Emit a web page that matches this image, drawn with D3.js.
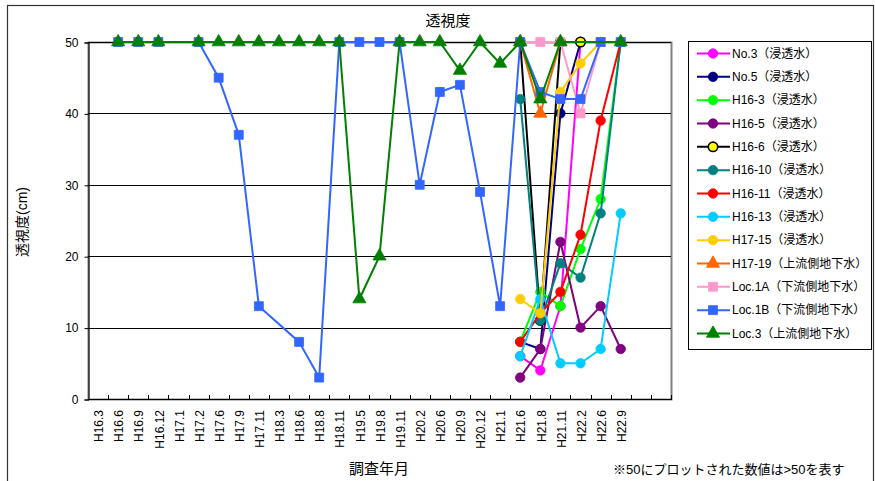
<!DOCTYPE html>
<html>
<head>
<meta charset="utf-8">
<script src="https://cdn.jsdelivr.net/npm/d3@7"></script>
<style>
  body { margin: 0; background: #fff; }
  text { font-family: "Liberation Sans", "Noto Sans CJK JP", sans-serif; }
</style>
</head>
<body>
<div id="chart"></div>
<script>
// survey dates (last two slots are empty on the axis)
var categories = ["H16.3","H16.6","H16.9","H16.12","H17.1","H17.2","H17.6","H17.9","H17.11",
  "H18.3","H18.6","H18.8","H18.11","H19.5","H19.8","H19.11","H20.2","H20.6","H20.9","H20.12",
  "H21.1","H21.6","H21.8","H21.11","H22.2","H22.6","H22.9"];
var blankSlots = ["_a","_b"];
var recentDates = ["H21.6","H21.8","H21.11","H22.2","H22.6","H22.9"];
var yTicks = [0,10,20,30,40,50];

// recent wells (recentDates)
var no3   = [6, 4, 13, 50, null, null];
var no5   = [8, 7, 40, 50, null, null];
var h16_3 = [8, 15, 13, 21, 28, 50];
var h16_5 = [3, 7, 22, 10, 13, 7];
var h16_6 = [50, 11, 50, 50, null, null];
var h16_10 = [42, 11, 19, 17, 26, 50];
var h16_11 = [8, 12, 15, 23, 39, 50];
var h16_13 = [6, 14, 5, 5, 7, 26];
var h17_15 = [14, 12, 43, 47, 50, null];
var h17_19 = [50, 40, 50, null, null, null];
var loc1a  = [50, 50, 50, 40, 50, 50];
// long records (categories)
var loc1b = [null,50,50,50,null,50,45,37,13,null,8,3,50,50,50,50,30,43,44,29,13,50,43,42,42,50,50];
var loc3  = [null,50,50,50,null,50,50,50,50,50,50,50,50,14,20,50,50,50,46,50,47,50,42,50,null,null,50];

var series = [
  {name:"No.3（浸透水）",   dates:recentDates, values:no3,   color:"#FF00FF", marker:"circle"},
  {name:"No.5（浸透水）",   dates:recentDates, values:no5,   color:"#000080", marker:"circle"},
  {name:"H16-3（浸透水）",  dates:recentDates, values:h16_3, color:"#00FF00", marker:"circle"},
  {name:"H16-5（浸透水）",  dates:recentDates, values:h16_5, color:"#800080", marker:"circle"},
  {name:"H16-6（浸透水）",  dates:recentDates, values:h16_6, color:"#000000", marker:"circle", fill:"#FFFF00"},
  {name:"H16-10（浸透水）", dates:recentDates, values:h16_10, color:"#008080", marker:"circle"},
  {name:"H16-11（浸透水）", dates:recentDates, values:h16_11, color:"#FF0000", marker:"circle"},
  {name:"H16-13（浸透水）", dates:recentDates, values:h16_13, color:"#00CCFF", marker:"circle"},
  {name:"H17-15（浸透水）", dates:recentDates, values:h17_15, color:"#FFCC00", marker:"circle"},
  {name:"H17-19（上流側地下水）", dates:recentDates, values:h17_19, color:"#FF6600", marker:"triangle"},
  {name:"Loc.1A（下流側地下水）", dates:recentDates, values:loc1a, color:"#FF99CC", marker:"square"},
  {name:"Loc.1B（下流側地下水）", dates:categories, values:loc1b, color:"#3366FF", marker:"square"},
  {name:"Loc.3（上流側地下水）",  dates:categories, values:loc3,  color:"#008000", marker:"triangle"}
];

var width = 875, height = 481;
var plot = {left: 88, right: 671, top: 42, bottom: 399};

var svg = d3.select("#chart").append("svg")
  .attr("width", width).attr("height", height);

// chart area border
svg.append("rect")
  .attr("x", 7.5).attr("y", 5.5).attr("width", 866).attr("height", 490)
  .attr("fill", "#fff").attr("stroke", "#333").attr("stroke-width", 1.2);

var x = d3.scaleBand()
  .domain(categories.concat(blankSlots))
  .range([plot.left, plot.right]);
var y = d3.scaleLinear().domain([0, 50]).range([plot.bottom, plot.top]);
var cx = function(d) { return x(d) + x.bandwidth() / 2; };

// plot area frame + gridlines
svg.append("rect")
  .attr("x", plot.left + 0.5).attr("y", plot.top + 0.5)
  .attr("width", plot.right - plot.left).attr("height", plot.bottom - plot.top)
  .attr("fill", "#fff").attr("stroke", "#808080").attr("stroke-width", 2);

svg.append("g").selectAll("line").data(yTicks.slice(1)).join("line")
  .attr("x1", plot.left).attr("x2", plot.right)
  .attr("y1", function(d) { return Math.round(y(d)) + 0.5; })
  .attr("y2", function(d) { return Math.round(y(d)) + 0.5; })
  .attr("stroke", "#000").attr("stroke-width", 1);

// y axis
var yAxis = svg.append("g")
  .attr("transform", "translate(" + (plot.left + 0.5) + ",0.5)")
  .call(d3.axisLeft(y).tickValues(yTicks).tickSize(4).tickPadding(6));
yAxis.select(".domain").attr("stroke", "#000");
yAxis.selectAll("text").style("font-size", "12px").attr("fill", "#000");

// x axis: ticks on category boundaries, pointing inward
var xg = svg.append("g");
xg.append("line")
  .attr("x1", plot.left).attr("x2", plot.right + 1)
  .attr("y1", plot.bottom + 0.5).attr("y2", plot.bottom + 0.5)
  .attr("stroke", "#000");
xg.selectAll("line.tick").data(x.domain().slice(1).concat([null])).join("line")
  .attr("class", "tick")
  .attr("x1", function(d) { return Math.round(d ? x(d) : plot.right) + 0.5; })
  .attr("x2", function(d) { return Math.round(d ? x(d) : plot.right) + 0.5; })
  .attr("y1", plot.bottom - 4).attr("y2", plot.bottom)
  .attr("stroke", "#000");
xg.selectAll("text").data(categories).join("text")
  .attr("transform", function(d) { return "translate(" + (cx(d) + 1) + "," + (plot.bottom + 11) + ") rotate(-90)"; })
  .attr("text-anchor", "end")
  .attr("dy", "0.35em")
  .style("font-size", "12px")
  .text(function(d) { return d; });

// series
var line = d3.line()
  .x(function(d) { return cx(d.date); })
  .y(function(d) { return y(d.value); });

function markerPath(type) {
  if (type === "triangle") return d3.symbol(d3.symbolTriangle, 75)();
  if (type === "square") return d3.symbol(d3.symbolSquare, 80)();
  return d3.symbol(d3.symbolCircle, 70)();
}

series.forEach(function(s) {
  var pts = s.dates.map(function(dt, i) { return {date: dt, value: s.values[i]}; })
    .filter(function(p) { return p.value != null; });
  var g = svg.append("g");
  g.append("path").datum(pts)
    .attr("d", line)
    .attr("fill", "none")
    .attr("stroke", s.color)
    .attr("stroke-width", 2);
  g.selectAll("path.m").data(pts).join("path")
    .attr("class", "m")
    .attr("transform", function(d) { return "translate(" + cx(d.date) + "," + y(d.value) + ")"; })
    .attr("d", markerPath(s.marker))
    .attr("fill", s.fill || s.color)
    .attr("stroke", s.color)
    .attr("stroke-width", s.fill ? 1.6 : 0.8);
});

// titles
svg.append("text")
  .attr("x", 448).attr("y", 26)
  .attr("text-anchor", "middle")
  .style("font-size", "15px")
  .text("透視度");

svg.append("text")
  .attr("transform", "translate(27,222) rotate(-90)")
  .attr("text-anchor", "middle")
  .style("font-size", "14px")
  .text("透視度(cm)");

svg.append("text")
  .attr("x", 379).attr("y", 474)
  .attr("text-anchor", "middle")
  .style("font-size", "15px")
  .text("調査年月");

svg.append("text")
  .attr("x", 613).attr("y", 474)
  .style("font-size", "13px")
  .text("※50にプロットされた数値は>50を表す");

// legend
var legend = svg.append("g");
legend.append("rect")
  .attr("x", 688.5).attr("y", 41.5).attr("width", 183).attr("height", 308)
  .attr("fill", "#fff").attr("stroke", "#000");

var item = legend.selectAll("g.item").data(series).join("g")
  .attr("class", "item")
  .attr("transform", function(d, i) { return "translate(0," + (53.5 + i * 23.33) + ")"; });
item.append("line")
  .attr("x1", 697).attr("x2", 730)
  .attr("stroke", function(d) { return d.color; })
  .attr("stroke-width", 2);
item.append("path")
  .attr("transform", "translate(713,0)")
  .attr("d", function(d) { return markerPath(d.marker); })
  .attr("fill", function(d) { return d.fill || d.color; })
  .attr("stroke", function(d) { return d.color; })
  .attr("stroke-width", function(d) { return d.fill ? 1.6 : 0.8; });
item.append("text")
  .attr("x", 732).attr("dy", "0.36em")
  .style("font-size", "12px")
  .text(function(d) { return d.name; });
</script>
</body>
</html>
